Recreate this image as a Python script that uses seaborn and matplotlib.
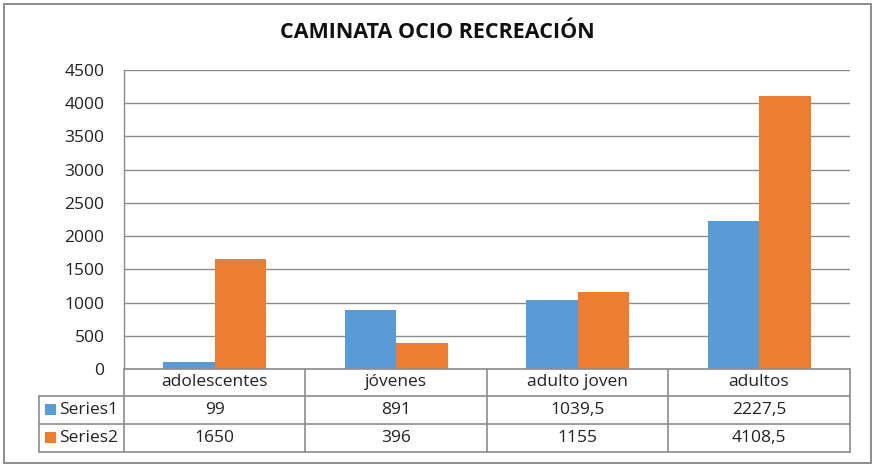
import matplotlib
matplotlib.use("Agg")
import matplotlib.pyplot as plt
import seaborn as sns
import pandas as pd
from matplotlib.patches import Rectangle
from matplotlib.lines import Line2D

categories = ["adolescentes", "jóvenes", "adulto joven", "adultos"]
series_names = ["Series1", "Series2"]
series1 = [99, 891, 1039.5, 2227.5]
series2 = [1650, 396, 1155, 4108.5]
series1_labels = ["99", "891", "1039,5", "2227,5"]
series2_labels = ["1650", "396", "1155", "4108,5"]
yticks = [0, 500, 1000, 1500, 2000, 2500, 3000, 3500, 4000, 4500]
title = "CAMINATA OCIO RECREACIÓN"

colors = ["#5B9BD5", "#ED7D31"]
grid_c = "#8C8C8C"
FONT = ["Open Sans", "DejaVu Sans"]

sns.set_theme(style="white")
plt.rcParams["font.family"] = FONT

W, H = 875, 469
fig = plt.figure(figsize=(W / 100, H / 100), dpi=100)

def fx(px):
    return px / W

def fy(py):
    return 1 - py / H

# plot area in pixels
L, R, T, B = 124, 850, 70, 369
ax = fig.add_axes([fx(L), fy(B), fx(R) - fx(L), fy(T) - fy(B)])

df = pd.DataFrame({
    "cat": categories * 2,
    "val": series1 + series2,
    "ser": [series_names[0]] * 4 + [series_names[1]] * 4,
})
sns.barplot(data=df, x="cat", y="val", hue="ser", palette=colors, width=0.57,
            saturation=1, ax=ax, legend=False, order=categories,
            hue_order=series_names, errorbar=None, linewidth=0)
ax.set_ylim(0, 4500)
ax.set_xlim(-0.5, 3.5)
ax.set_yticks(yticks)
ax.set_yticklabels([str(t) for t in yticks], fontsize=12.5, color="#222222")
ax.tick_params(axis="y", length=0, pad=14)
ax.set_xticks([])
ax.set_xlabel("")
ax.set_ylabel("")
ax.grid(axis="y", color=grid_c, linewidth=1)
ax.set_axisbelow(True)
for s in ["top", "right", "bottom"]:
    ax.spines[s].set_visible(False)
ax.spines["left"].set_color(grid_c)
ax.spines["left"].set_linewidth(1)

# table drawn in pixel coordinates on an overlay axes
tax = fig.add_axes([0, 0, 1, 1], facecolor="none")
tax.set_xlim(0, W)
tax.set_ylim(H, 0)
tax.axis("off")

lc = grid_c
lw = 1.2
cols = [124, 305, 487, 668, 850]
rows = [369, 396, 424, 452]
# outer chart border
tax.add_patch(Rectangle((4, 4), 867, 459, fill=False, edgecolor="#8C8C8C", lw=1.4))
# horizontal lines
tax.add_line(Line2D([124, 850], [369, 369], color=lc, lw=lw))
for y in rows[1:]:
    tax.add_line(Line2D([39, 850], [y, y], color=lc, lw=lw))
# vertical lines
tax.add_line(Line2D([39, 39], [396, 452], color=lc, lw=lw))
for x in cols:
    tax.add_line(Line2D([x, x], [369, 452], color=lc, lw=lw))

fs = 12.5
tc = "#222222"
for i, c in enumerate(categories):
    cx = (cols[i] + cols[i + 1]) / 2
    tax.text(cx, (rows[0] + rows[1]) / 2, c, ha="center", va="center", fontsize=fs, color=tc)
    tax.text(cx, (rows[1] + rows[2]) / 2, series1_labels[i], ha="center", va="center", fontsize=fs, color=tc)
    tax.text(cx, (rows[2] + rows[3]) / 2, series2_labels[i], ha="center", va="center", fontsize=fs, color=tc)

for j, name in enumerate(series_names):
    cy = (rows[1 + j] + rows[2 + j]) / 2
    tax.add_patch(Rectangle((45, cy - 5.5), 11, 11, color=colors[j], lw=0))
    tax.text(59, cy, name, ha="left", va="center", fontsize=fs, color=tc)

fig.text(fx(437.5), fy(32), title, ha="center", va="center", fontsize=15.5,
         fontweight="bold", color="#111111")

fig.savefig("out.png", dpi=100, facecolor="white")
